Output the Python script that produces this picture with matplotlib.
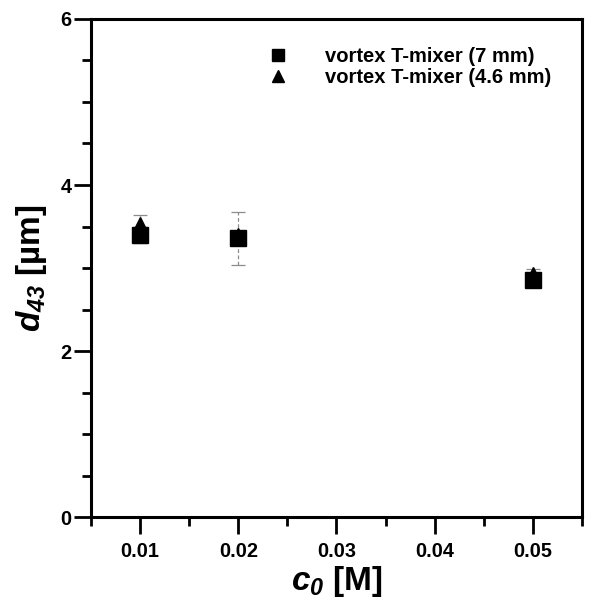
import matplotlib
matplotlib.use("Agg")
import matplotlib.pyplot as plt
from matplotlib.ticker import MultipleLocator
from matplotlib.lines import Line2D

plt.rcParams['font.family'] = ['Liberation Sans', 'DejaVu Sans']
plt.rcParams['font.weight'] = 'bold'
plt.rcParams['mathtext.fontset'] = 'custom'
plt.rcParams['mathtext.it'] = 'Liberation Sans:italic:bold'
plt.rcParams['mathtext.sf'] = 'Liberation Sans:italic:bold'
plt.rcParams['mathtext.rm'] = 'Liberation Sans:bold'
plt.rcParams['mathtext.bf'] = 'Liberation Sans:bold'

# datos
c0 = [0.01, 0.02, 0.05]
d43_7mm = [3.40, 3.36, 2.85]
err_7mm = [0.10, 0.32, 0.06]
d43_46mm = [3.52, 3.38, 2.92]
err_46mm = [0.12, 0.05, 0.07]

etiquetas = ['vortex T-mixer (7 mm)', 'vortex T-mixer (4.6 mm)']

fig = plt.figure(figsize=(5.89, 6.03), dpi=100)
ax = fig.add_axes([0.1545, 0.1426, 0.8335, 0.8259])


def dibujar_serie(x, y, err, marcador):
    _, caps, barras = ax.errorbar(x, y, yerr=err, fmt=marcador, color='black',
                                  markersize=12, ecolor='0.55', elinewidth=0.9,
                                  capsize=5, capthick=0.9)
    for b in barras:
        b.set_linestyle((0, (3, 2)))


dibujar_serie(c0, d43_46mm, err_46mm, '^')
dibujar_serie(c0, d43_7mm, err_7mm, 's')

ax.set_xlim(0.005, 0.055)
ax.set_ylim(0, 6)
ax.xaxis.set_minor_locator(MultipleLocator(0.005))
ax.yaxis.set_major_locator(MultipleLocator(2))
ax.yaxis.set_minor_locator(MultipleLocator(0.5))
ax.set_xticks([0.01, 0.02, 0.03, 0.04, 0.05])
ax.set_xticklabels(['0.01', '0.02', '0.03', '0.04', '0.05'])

for s in ax.spines.values():
    s.set_linewidth(2.2)
ax.tick_params(which='major', direction='out', length=12, width=2, labelsize=14.3, pad=6)
ax.tick_params(which='minor', direction='out', length=6.5, width=2)
ax.tick_params(axis='y', which='major', pad=2)

ax.set_xlabel(r'$c_{\mathsf{0}}$ [M]', fontsize=24, fontweight='bold', labelpad=2)
ax.set_ylabel(r'$d_{\mathsf{43}}$ [µm]', fontsize=24, fontweight='bold', labelpad=8)

marcas = [Line2D([], [], marker='s', color='black', linestyle='none', markersize=8),
          Line2D([], [], marker='^', color='black', linestyle='none', markersize=8)]
ax.legend(marcas, etiquetas, loc='upper right', frameon=False,
          fontsize=14.5, handletextpad=1.6, bbox_to_anchor=(0.975, 0.98),
          labelspacing=0.1, handlelength=1.5)

fig.savefig('out.png', dpi=100)
